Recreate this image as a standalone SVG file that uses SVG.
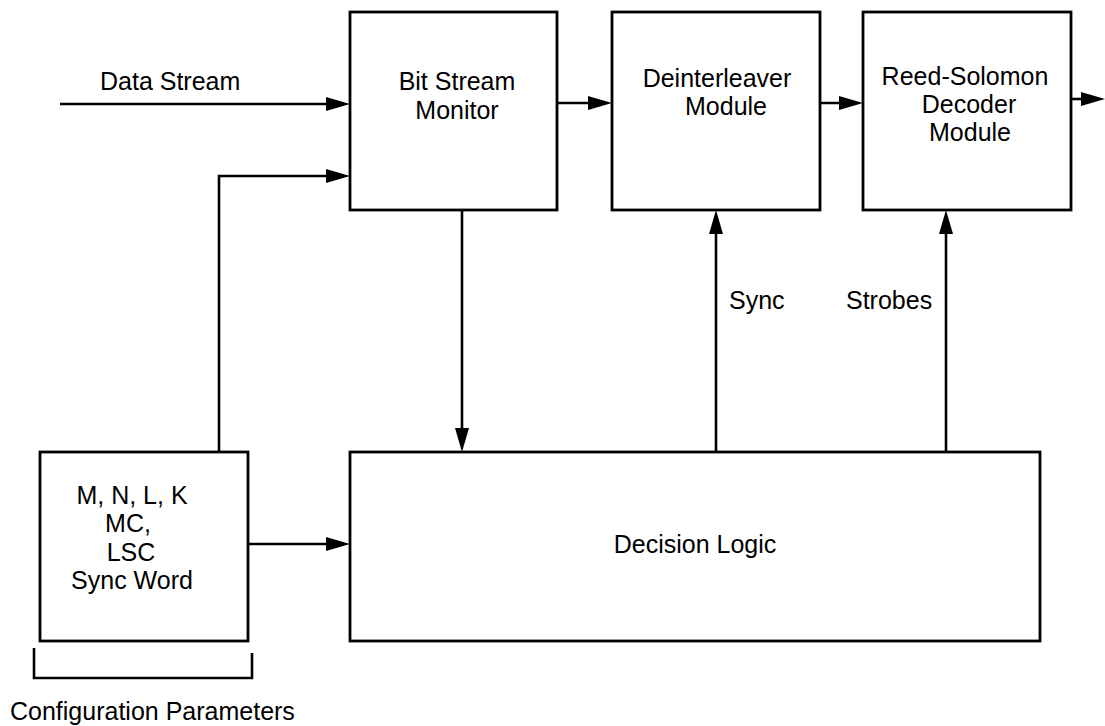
<svg xmlns="http://www.w3.org/2000/svg" width="1105" height="726" viewBox="0 0 1105 726">
<style>
.box{fill:#fff;stroke:#000;stroke-width:2.8}
.ln{fill:none;stroke:#000;stroke-width:2.6}
text{font-family:"Liberation Sans",Arial,Helvetica,sans-serif;font-size:25px;fill:#000}
.c{text-anchor:middle}
</style>
<defs>
<marker id="ah" markerUnits="userSpaceOnUse" viewBox="0 0 24 14" markerWidth="24" markerHeight="14" refX="16" refY="7" orient="auto">
<path d="M0,0 L24,7 L0,14 z" fill="#000"/>
</marker>
</defs>
<rect width="1105" height="726" fill="#fff"/>
<g id="connectors">
<line class="ln" x1="60" y1="104" x2="342" y2="104" marker-end="url(#ah)"/>
<polyline class="ln" points="219,454 219,176 342,176" marker-end="url(#ah)"/>
<line class="ln" x1="557" y1="103" x2="604" y2="103" marker-end="url(#ah)"/>
<line class="ln" x1="820" y1="103" x2="855" y2="103" marker-end="url(#ah)"/>
<line class="ln" x1="1071" y1="99" x2="1097" y2="99" marker-end="url(#ah)"/>
<line class="ln" x1="462" y1="210" x2="462" y2="444" marker-end="url(#ah)"/>
<line class="ln" x1="716" y1="452" x2="716" y2="218" marker-end="url(#ah)"/>
<line class="ln" x1="946" y1="452" x2="946" y2="218" marker-end="url(#ah)"/>
<line class="ln" x1="248" y1="544" x2="342" y2="544" marker-end="url(#ah)"/>
<polyline class="ln" points="34,648 34,678 252,678 252,653"/>
</g>
<g id="bsm">
<rect class="box" x="350" y="12" width="207" height="198"/>
<text class="c" x="457" y="90">Bit Stream</text>
<text class="c" x="457" y="119">Monitor</text>
</g>
<g id="deint">
<rect class="box" x="612" y="12" width="208" height="198"/>
<text class="c" x="717" y="87">Deinterleaver</text>
<text class="c" x="726" y="115">Module</text>
</g>
<g id="rs">
<rect class="box" x="863" y="12" width="208" height="198"/>
<text class="c" x="965" y="85">Reed-Solomon</text>
<text class="c" x="969" y="113">Decoder</text>
<text class="c" x="970" y="141">Module</text>
</g>
<g id="config">
<rect class="box" x="40" y="452" width="208" height="189"/>
<text class="c" x="132" y="504">M, N, L, K</text>
<text class="c" x="128" y="532">MC,</text>
<text class="c" x="131" y="561">LSC</text>
<text class="c" x="132" y="589">Sync Word</text>
</g>
<g id="decision">
<rect class="box" x="350" y="452" width="690" height="189"/>
<text class="c" x="695" y="553">Decision Logic</text>
</g>
<g id="labels">
<text x="100" y="90">Data Stream</text>
<text x="729" y="309">Sync</text>
<text x="846" y="309">Strobes</text>
<text x="10" y="720">Configuration Parameters</text>
</g>
</svg>
